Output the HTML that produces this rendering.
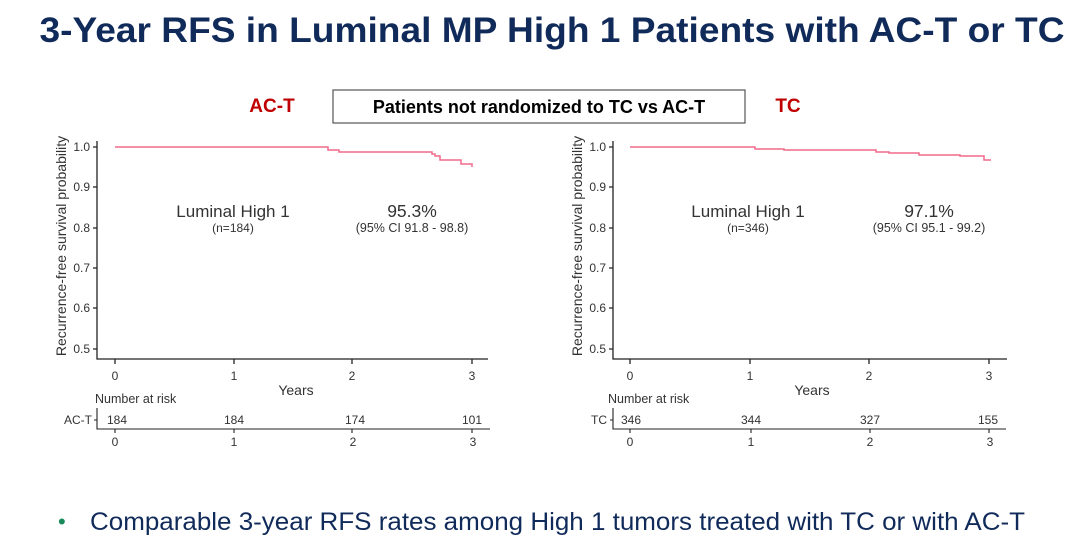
<!DOCTYPE html>
<html><head><meta charset="utf-8"><style>
body{margin:0;background:#fff;width:1080px;height:549px;overflow:hidden;font-family:"Liberation Sans",sans-serif}
</style></head><body>
<svg width="1080" height="549" xmlns="http://www.w3.org/2000/svg" font-family="Liberation Sans, sans-serif">
<text x="552" y="42" text-anchor="middle" font-size="35.5" font-weight="bold" fill="#102a5a" textLength="1025" lengthAdjust="spacingAndGlyphs">3-Year RFS in Luminal MP High 1 Patients with AC-T or TC</text>
<text x="272" y="112" text-anchor="middle" font-size="19" font-weight="bold" fill="#c00000">AC-T</text>
<text x="788" y="112" text-anchor="middle" font-size="19" font-weight="bold" fill="#c00000">TC</text>
<rect x="333" y="90" width="412" height="33" fill="#fff" stroke="#555" stroke-width="1.2"/>
<text x="539" y="113" text-anchor="middle" font-size="18" font-weight="bold" fill="#000">Patients not randomized to TC vs AC-T</text>

<g fill="#333" font-size="12">
<path d="M97 141V359H488M115 359v5M234 359v5M352 359v5M472 359v5M93 147h4M93 187h4M93 228h4M93 268h4M93 308h4M93 349h4" stroke="#222" stroke-width="1.3" fill="none"/>
<g text-anchor="end"><text x="90" y="151">1.0</text><text x="90" y="191">0.9</text><text x="90" y="232">0.8</text><text x="90" y="272">0.7</text><text x="90" y="312">0.6</text><text x="90" y="353">0.5</text></g>
<text transform="translate(66 246) rotate(-90)" text-anchor="middle" font-size="14">Recurrence-free survival probability</text>
<g text-anchor="middle"><text x="115" y="380">0</text><text x="234" y="380">1</text><text x="352" y="380">2</text><text x="472" y="380">3</text></g>
<text x="296" y="395" text-anchor="middle" font-size="14">Years</text>
<text x="95" y="403" font-size="12.5">Number at risk</text>
<text x="92" y="424" text-anchor="end">AC-T</text>
<path d="M97 408V429H490M115 429v4M234 429v4M352 429v4M472 429v4M94 420h3" stroke="#222" stroke-width="1.1" fill="none"/>
<g text-anchor="middle"><text x="117" y="424">184</text><text x="234" y="424">184</text><text x="355" y="424">174</text><text x="472" y="424">101</text>
<text x="115" y="446">0</text><text x="234" y="446">1</text><text x="353" y="446">2</text><text x="473" y="446">3</text></g>
<text x="233" y="217" text-anchor="middle" font-size="17">Luminal High 1</text>
<text x="233" y="232" text-anchor="middle" font-size="12">(n=184)</text>
<text x="412" y="217" text-anchor="middle" font-size="17.5">95.3%</text>
<text x="412" y="232" text-anchor="middle" font-size="12.5">(95% CI 91.8 - 98.8)</text>
<path d="M115 147H328V150H339V152H432V154H435V156H440V160H461V164H472V167" stroke="#f06a8a" stroke-width="1.5" fill="none"/>
</g>

<g fill="#333" font-size="12">
<path d="M613 141V359H1007M630 359v5M750 359v5M869 359v5M989 359v5M609 147h4M609 187h4M609 228h4M609 268h4M609 308h4M609 349h4" stroke="#222" stroke-width="1.3" fill="none"/>
<g text-anchor="end"><text x="606" y="151">1.0</text><text x="606" y="191">0.9</text><text x="606" y="232">0.8</text><text x="606" y="272">0.7</text><text x="606" y="312">0.6</text><text x="606" y="353">0.5</text></g>
<text transform="translate(582 246) rotate(-90)" text-anchor="middle" font-size="14">Recurrence-free survival probability</text>
<g text-anchor="middle"><text x="630" y="380">0</text><text x="750" y="380">1</text><text x="869" y="380">2</text><text x="989" y="380">3</text></g>
<text x="812" y="395" text-anchor="middle" font-size="14">Years</text>
<text x="608" y="403" font-size="12.5">Number at risk</text>
<text x="607" y="424" text-anchor="end">TC</text>
<path d="M613 408V429H1006M630 429v4M751 429v4M870 429v4M989 429v4M610 420h3" stroke="#222" stroke-width="1.1" fill="none"/>
<g text-anchor="middle"><text x="631" y="424">346</text><text x="751" y="424">344</text><text x="870" y="424">327</text><text x="988" y="424">155</text>
<text x="630" y="446">0</text><text x="751" y="446">1</text><text x="870" y="446">2</text><text x="990" y="446">3</text></g>
<text x="748" y="217" text-anchor="middle" font-size="17">Luminal High 1</text>
<text x="748" y="232" text-anchor="middle" font-size="12">(n=346)</text>
<text x="929" y="217" text-anchor="middle" font-size="17.5">97.1%</text>
<text x="929" y="232" text-anchor="middle" font-size="12.5">(95% CI 95.1 - 99.2)</text>
<path d="M630 147H755V149H784V150H876V152H889V153H919V155H960V156H984V160H991" stroke="#f06a8a" stroke-width="1.5" fill="none"/>
</g>

<text x="58" y="529" font-size="22" fill="#1a8a5a">•</text>
<text x="90" y="530" font-size="25" fill="#102a5a" textLength="935" lengthAdjust="spacingAndGlyphs">Comparable 3-year RFS rates among High 1 tumors treated with TC or with AC-T</text>
</svg>
</body></html>
